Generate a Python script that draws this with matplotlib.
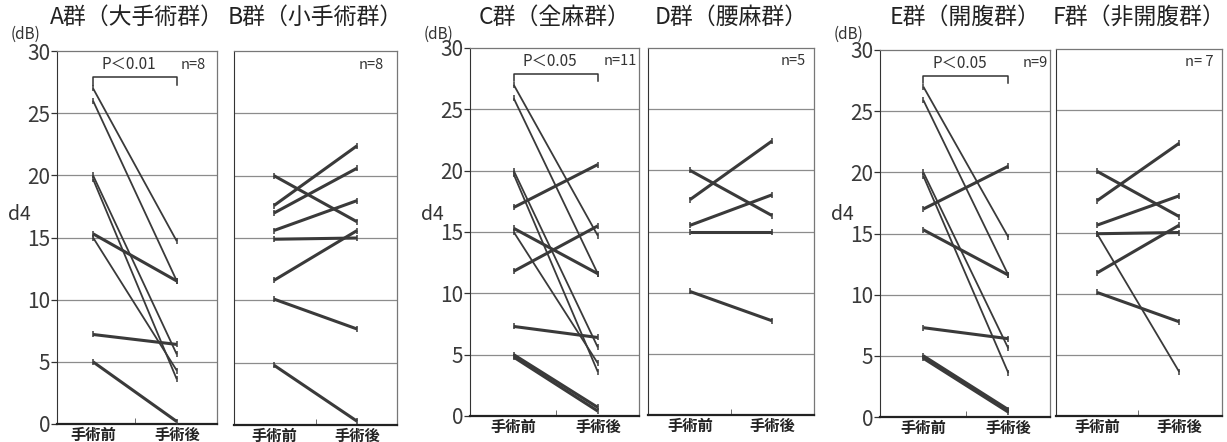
import matplotlib.pyplot as plt

plt.rcParams['font.family'] = ['Noto Sans CJK JP', 'DejaVu Sans']

# d4 values (dB), before / after surgery
A_pre = [27.0, 26.0, 20.0, 19.7, 15.3, 15.0, 7.2, 5.0]
A_post = [14.7, 11.5, 5.6, 3.6, 11.5, 4.3, 6.4, 0.2]

B_pre = [20.0, 17.6, 17.0, 15.6, 14.9, 11.6, 10.1, 4.8]
B_post = [16.3, 22.4, 20.6, 18.0, 15.0, 15.6, 7.7, 0.3]

C_pre = [27.0, 25.9, 20.0, 19.7, 17.0, 15.3, 15.0, 11.8, 7.3, 5.0, 4.8]
C_post = [14.7, 11.6, 5.6, 3.6, 20.5, 11.6, 4.3, 15.5, 6.4, 0.7, 0.4]

D_pre = [20.0, 17.6, 15.5, 15.0, 10.1]
D_post = [16.3, 22.4, 18.0, 15.0, 7.7]

E_pre = [27.0, 25.9, 20.0, 19.7, 17.0, 15.3, 7.3, 5.0, 4.8]
E_post = [14.7, 11.6, 5.6, 3.6, 20.5, 11.6, 6.4, 0.6, 0.4]

F_pre = [20.0, 17.6, 15.6, 14.9, 11.7, 10.1, 14.9]
F_post = [16.3, 22.3, 18.0, 15.0, 15.6, 7.7, 3.6]

titles = ['A群（大手術群）', 'B群（小手術群）', 'C群（全麻群）',
          'D群（腰麻群）', 'E群（開腹群）', 'F群（非開腹群）']
n_labels = ['n=8', 'n=8', 'n=11', 'n=5', 'n=9', 'n= 7']
p_labels = ['P＜0.01', None, 'P＜0.05', None, 'P＜0.05', None]
x_labels = ['手術前', '手術後']
y_ticks = [0, 5, 10, 15, 20, 25, 30]

panels = [(A_pre, A_post), (B_pre, B_post), (C_pre, C_post),
          (D_pre, D_post), (E_pre, E_post), (F_pre, F_post)]

# axes boxes in pixels: left, right, top, bottom
W, H = 1227, 442
boxes = [(57, 217, 51, 424), (234, 397, 51, 425), (470, 639, 48, 416),
         (648, 814, 48, 415), (880, 1050, 50, 417), (1056, 1222, 49, 416)]
xlims = [(-0.43, 1.48), (-0.48, 1.48), (-0.52, 1.49),
         (-0.51, 1.51), (-0.51, 1.49), (-0.5, 1.52)]
n_xpos = [0.93, 0.92, 0.99, 0.95, 0.99, 0.95]

fig = plt.figure(figsize=(W / 100, H / 100), dpi=100)
line_c = '#3a3a3a'

for i, (pre, post) in enumerate(panels):
    l, r, t, b = boxes[i]
    ax = fig.add_axes([l / W, 1 - b / H, (r - l) / W, (b - t) / H])
    ax.set_xlim(*xlims[i])
    ax.set_ylim(0, 30)

    for y in [5, 10, 15, 20, 25]:
        ax.axhline(y, color='#8c8c8c', lw=0.9, zorder=1)

    for p0, p1 in zip(pre, post):
        steep = abs(p0 - p1) > 7
        ax.plot([0, 1], [p0, p1], color=line_c, lw=1.3 if steep else 2.2,
                marker='|', ms=4, mew=1.1, zorder=3, solid_capstyle='butt')

    for side in ['top', 'right']:
        ax.spines[side].set_color('#777777')
        ax.spines[side].set_linewidth(0.9)
    ax.spines['left'].set_color('#333333')
    ax.spines['bottom'].set_color('#222222')
    ax.spines['bottom'].set_linewidth(1.6)

    ax.set_xticks([0, 1])
    ax.set_xticklabels(x_labels, fontsize=11, fontweight='bold', color='#222222')
    ax.tick_params(axis='x', length=0, pad=2)
    ax.set_xticks([0.5], minor=True)
    ax.tick_params(axis='x', which='minor', direction='in', length=4, color='#555555')

    if i % 2 == 0:
        ax.set_yticks(y_ticks)
        ax.tick_params(axis='y', length=4, width=0.9, pad=1, labelsize=15,
                       labelcolor='#3a3a3a', color='#333333')
        cx = l / W
        fig.text(cx - 0.026, 1 - 34 / H, '(dB)', fontsize=11, color='#333333',
                 ha='center', va='center')
        fig.text(cx - 0.031, 1 - 214 / H, 'd4', fontsize=14, color='#333333',
                 ha='center', va='center')
    else:
        ax.set_yticks([])

    fig.text((l + r) / 2 / W, 1 - 17 / H, titles[i], fontsize=16.5,
             color='#222222', ha='center', va='center')

    ax.text(n_xpos[i], 28.9, n_labels[i], transform=ax.get_yaxis_transform(),
            fontsize=10.5, color='#333333', ha='right', va='center')

    if p_labels[i]:
        ax.plot([0, 0, 1, 1], [27.3, 27.9, 27.9, 27.3], color='#333333', lw=1.1)
        ax.text(0.43, 28.9, p_labels[i], fontsize=11, color='#333333',
                ha='center', va='center')

fig.savefig('out.png', dpi=100)
